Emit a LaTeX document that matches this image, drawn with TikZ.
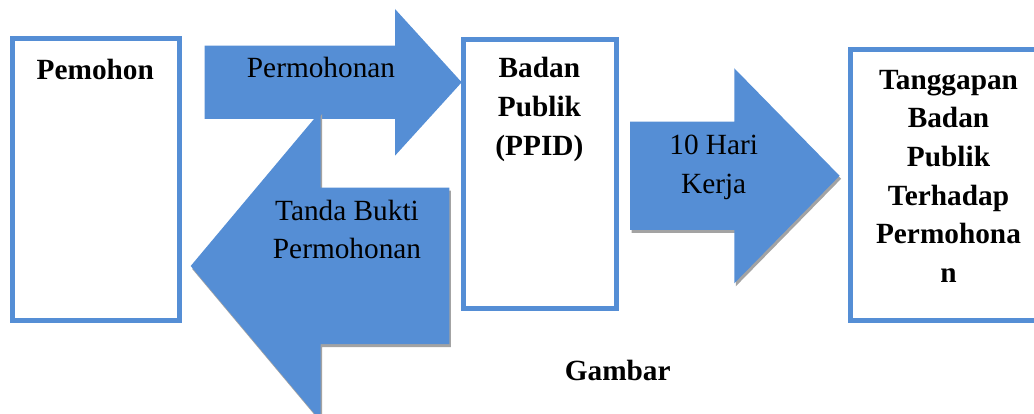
\documentclass[tikz,border=0pt]{standalone}
\usepackage{fontspec}
\setmainfont{Liberation Serif}
\usepackage{xcolor}
\usepackage{tikz}
\usetikzlibrary{backgrounds}
\definecolor{alurBlue}{HTML}{558ED5}
\definecolor{alurShade}{HTML}{A3A3A3}

\begin{document}
\begin{tikzpicture}[
  x=1pt, y=-1pt,
  font=\fontsize{29.3}{38.7}\selectfont,
  box/.style={rectangle, draw=alurBlue, line width=5pt, fill=white, inner sep=0pt},
  boxtitle/.style={anchor=base, align=center, inner sep=0pt, font=\fontsize{29.3}{38.7}\selectfont\bfseries},
  arrowtext/.style={anchor=base, align=center, inner sep=0pt},
  blockarrow/.style={fill=alurBlue},
  blockshadow/.style={fill=alurShade, shift={(1.5,3)}},
]
\useasboundingbox (0,0) rectangle (1034,414);
\clip (0,0) rectangle (1034,414);

% ── Boxes (white, thick blue outline) ────────────────────────────────────────
\node[box, minimum width=166.7pt, minimum height=282pt] (pemohon) at (95.85,179.5) {};
\node[box, minimum width=153.4pt, minimum height=269.3pt] (badan) at (540,173.85) {};
\node[box, minimum width=194.7pt, minimum height=271.6pt] (tanggapan) at (948.15,185) {};

% ── Box titles (base = baseline of the last line) ───────────────────────────
\node[boxtitle] (pemohonTxt) at (95.3,80) {Pemohon};
\node[boxtitle] (badanTxt) at (539.4,155.4) {Badan\\Publik\\(PPID)};
\node[boxtitle] (tanggapanTxt) at (948.5,282.5) {Tanggapan\\Badan\\Publik\\Terhadap\\Permohona\\n};

% ── Block arrows (the top one has no shadow) ─────────────────────────────────
\begin{scope}[on background layer]
  \fill[blockarrow] (204.7,45.7) -- (395,45.7) -- (395,9) -- (461.7,82.3)
    -- (395,155.7) -- (395,119) -- (204.7,119) -- cycle;

  \fill[blockshadow] (449.3,187.7) -- (320.7,187.7) -- (320.7,111) -- (190.7,266)
    -- (320.7,421) -- (320.7,344) -- (449.3,344) -- cycle;
  \fill[blockarrow] (449.3,187.7) -- (320.7,187.7) -- (320.7,111) -- (190.7,266)
    -- (320.7,421) -- (320.7,344) -- (449.3,344) -- cycle;

  \fill[blockshadow] (630.2,121.7) -- (734.3,121.7) -- (734.3,68.3) -- (839.6,175.8)
    -- (734.3,283.3) -- (734.3,230) -- (630.2,230) -- cycle;
  \fill[blockarrow] (630.2,121.7) -- (734.3,121.7) -- (734.3,68.3) -- (839.6,175.8)
    -- (734.3,283.3) -- (734.3,230) -- (630.2,230) -- cycle;
\end{scope}

% ── Arrow labels ─────────────────────────────────────────────────────────────
\node[arrowtext] (mohonTxt) at (321,78) {Permohonan};
\node[arrowtext] (buktiTxt) at (347,258.7) {Tanda Bukti\\Permohonan};
\node[arrowtext] (hariTxt) at (713.7,193.7) {10 Hari\\Kerja};

% ── Caption ──────────────────────────────────────────────────────────────────
\node[boxtitle] (gambarTxt) at (617.7,380) {Gambar};

\end{tikzpicture}
\end{document}
